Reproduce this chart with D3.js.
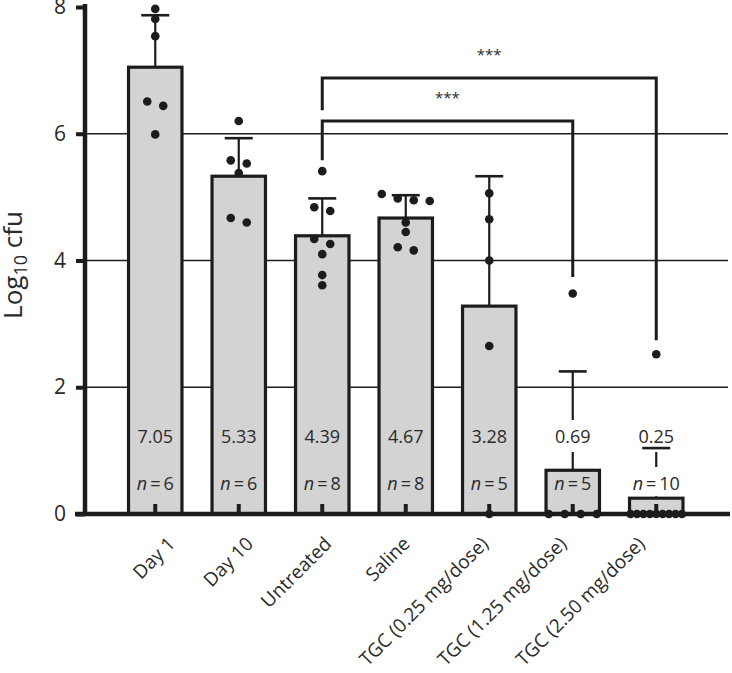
<!DOCTYPE html>
<html>
<head>
<meta charset="utf-8">
<script src="https://cdn.jsdelivr.net/npm/d3@7"></script>
<style>
  body { margin: 0; background: #fff; }
  svg text { font-family: "Open Sans", "Noto Sans", sans-serif; fill: #2a2a2a; }
</style>
</head>
<body>
<div id="container"></div>
<script>
/* DATA */
const groups = ["Day 1", "Day 10", "Untreated", "Saline",
  "TGC (0.25 mg/dose)", "TGC (1.25 mg/dose)", "TGC (2.50 mg/dose)"];
const means = [7.05, 5.33, 4.39, 4.67, 3.28, 0.69, 0.25];
const meanLabels = ["7.05", "5.33", "4.39", "4.67", "3.28", "0.69", "0.25"];
const sdTop = [7.87, 5.93, 4.98, 5.03, 5.33, 2.25, 1.04];   // mean + SD
const nCounts = [6, 6, 8, 8, 5, 5, 10];
const points = [
  [7.97, 7.81, 7.54, 6.51, 6.44, 5.99],
  [6.2, 5.58, 5.53, 5.38, 4.67, 4.6],
  [5.41, 4.84, 4.78, 4.34, 4.26, 4.1, 3.77, 3.61],
  [5.05, 4.98, 4.95, 4.94, 4.6, 4.45, 4.21, 4.16],
  [5.06, 4.65, 4.0, 2.65, 0],
  [3.48, 0, 0, 0, 0],
  [2.52, 0, 0, 0, 0, 0, 0, 0, 0, 0]
];
const yTicks = [0, 2, 4, 6, 8];
const gridValues = [2, 4, 6];
const comparisons = [
  { from: "Untreated", to: "TGC (1.25 mg/dose)", level: 6.2, fromEnd: 5.58, toEnd: 3.74, label: "***" },
  { from: "Untreated", to: "TGC (2.50 mg/dose)", level: 6.88, fromEnd: 6.37, toEnd: 2.74, label: "***" }
];

/* CONSTANTS */
const width = 732, height = 673;
const ink = "#1c1c1c";
const barFill = "#d3d3d3";
const r = 4.3;

const svg = d3.select("#container").append("svg")
  .attr("width", width).attr("height", height);

/* SCALES */
const x = d3.scaleBand()
  .domain(groups)
  .range([113.5, 698])
  .paddingInner(0.36)
  .paddingOuter(0.18);

const xLabel = d3.scalePoint()
  .domain(groups)
  .range([166, 636]);

const y = d3.scaleLinear()
  .domain([0, 8])
  .range([514, 7]);

const bw = x.bandwidth();
const cx = g => x(g) + bw / 2;

// gridlines
svg.append("g").selectAll("line")
  .data(gridValues)
  .join("line")
  .attr("x1", 85).attr("x2", 728)
  .attr("y1", d => y(d)).attr("y2", d => y(d))
  .attr("stroke", ink).attr("stroke-width", 1.6);

const rows = groups.map((g, i) => ({ g, mean: means[i], label: meanLabels[i], sd: sdTop[i], n: nCounts[i], pts: points[i] }));

// whisker stems
svg.append("g").selectAll("line")
  .data(rows)
  .join("line")
  .attr("x1", d => cx(d.g)).attr("x2", d => cx(d.g))
  .attr("y1", d => y(d.mean)).attr("y2", d => y(d.sd))
  .attr("stroke", ink).attr("stroke-width", 2.2);

// bars
const barG = svg.append("g");
barG.selectAll("rect")
  .data(rows)
  .join("rect")
  .attr("x", d => x(d.g))
  .attr("y", d => y(d.mean))
  .attr("width", bw)
  .attr("height", d => y(0) - y(d.mean))
  .attr("fill", barFill)
  .attr("stroke", ink)
  .attr("stroke-width", 3.2);

// labels (mean and n)
const labelG = svg.append("g");
const bgG = labelG.append("g");
const txtG = labelG.append("g");

const meanText = txtG.selectAll("text.mean")
  .data(rows)
  .join("text")
  .attr("class", "mean")
  .attr("x", d => cx(d.g)).attr("y", 443)
  .attr("text-anchor", "middle")
  .attr("font-size", 18)
  .text(d => d.label);

const nText = txtG.selectAll("text.n")
  .data(rows)
  .join("text")
  .attr("class", "n")
  .attr("x", d => cx(d.g)).attr("y", 490)
  .attr("text-anchor", "middle")
  .attr("font-size", 18);
nText.append("tspan").attr("font-style", "italic").text("n");
nText.append("tspan").text(d => "\u2009=\u2009" + d.n);

// white boxes behind labels that sit above short bars
[meanText, nText].forEach(sel => {
  sel.each(function(d) {
    const b = this.getBBox();
    if (b.y + b.height / 2 < y(d.mean)) {
      const bottom = Math.min(b.y + b.height + 4, y(d.mean) - 2);
      bgG.append("rect")
        .attr("x", b.x - 3).attr("y", b.y - 4)
        .attr("width", b.width + 6).attr("height", bottom - (b.y - 4))
        .attr("fill", "#fff");
    }
  });
});

// caps
svg.append("g").selectAll("line")
  .data(rows)
  .join("line")
  .attr("x1", d => cx(d.g) - 14).attr("x2", d => cx(d.g) + 14)
  .attr("y1", d => y(d.sd)).attr("y2", d => y(d.sd))
  .attr("stroke", ink).attr("stroke-width", 2.6);

// x axis: inward ticks at bar centres + long baseline
svg.append("line")
  .attr("x1", 75).attr("x2", 730)
  .attr("y1", y(0)).attr("y2", y(0))
  .attr("stroke", ink).attr("stroke-width", 4.5);

const xAxis = svg.append("g")
  .attr("transform", `translate(0,${y(0)})`)
  .call(d3.axisBottom(x).tickSize(-10).tickFormat(""));
xAxis.select(".domain").remove();
xAxis.selectAll(".tick line").attr("stroke", ink).attr("stroke-width", 4);

svg.append("g").selectAll("text")
  .data(groups)
  .join("text")
  .attr("transform", d => `translate(${xLabel(d)},535) rotate(-45)`)
  .attr("text-anchor", "end")
  .attr("dy", "0.75em")
  .attr("font-size", 19)
  .text(d => d);

// y axis
const yAxis = svg.append("g")
  .attr("transform", "translate(85,0)")
  .call(d3.axisLeft(y).tickValues(yTicks).tickSize(9).tickSizeOuter(0).tickPadding(10));
yAxis.select(".domain").attr("stroke", ink).attr("stroke-width", 4.5)
  .attr("d", `M0,${y(0)}V4`);
yAxis.selectAll(".tick line").attr("stroke", ink).attr("stroke-width", 4);
yAxis.selectAll(".tick text").attr("font-size", 21).attr("fill", "#2a2a2a")
  .style("font-family", "'Open Sans', 'Noto Sans', sans-serif");

const yTitle = svg.append("text")
  .attr("transform", "translate(22,265) rotate(-90)")
  .attr("text-anchor", "middle")
  .attr("font-size", 26);
yTitle.append("tspan").text("Log");
yTitle.append("tspan").attr("font-size", 18).attr("dy", "0.3em").text("10");
yTitle.append("tspan").attr("dy", "-0.2em").text(" cfu");

// significance brackets
const brG = svg.append("g");
comparisons.forEach(c => {
  const x1 = cx(c.from), x2 = cx(c.to), yl = y(c.level);
  brG.append("path")
    .attr("d", `M${x1},${y(c.fromEnd)}V${yl}H${x2}V${y(c.toEnd)}`)
    .attr("fill", "none")
    .attr("stroke", ink).attr("stroke-width", 3);
  brG.append("text")
    .attr("x", (x1 + x2) / 2).attr("y", yl - 18)
    .attr("text-anchor", "middle")
    .attr("font-size", 15)
    .text(c.label);
});

// data points, spread into rows
const dotG = svg.append("g");
rows.forEach(d => {
  const sorted = d.pts.slice().sort((a, b) => b - a);
  const clusters = [];
  sorted.forEach(v => {
    const last = clusters[clusters.length - 1];
    if (last && Math.abs(y(v) - y(last[0])) < 8) last.push(v);
    else clusters.push([v]);
  });
  clusters.forEach(cl => {
    const k = cl.length;
    const step = k > 1 ? Math.min(16, (bw - 2) / (k - 1)) : 0;
    cl.forEach((v, j) => {
      dotG.append("circle")
        .attr("cx", cx(d.g) + (j - (k - 1) / 2) * step)
        .attr("cy", y(v))
        .attr("r", r)
        .attr("fill", ink);
    });
  });
});
</script>
</body>
</html>
